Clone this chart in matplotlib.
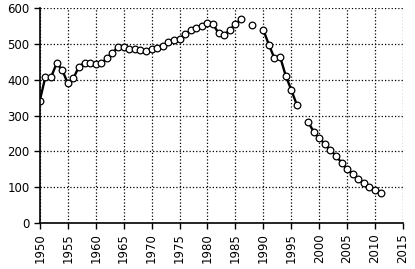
import numpy as np
import matplotlib
matplotlib.use('Agg')
import matplotlib.pyplot as plt

years = list(range(1950, 2012))
values = [342, 409, 407, 446, 428, 390, 404, 437, 448, 446,
          444, 446, 460, 474, 493, 491, 487, 485, 483, 482,
          486, 490, 495, 505, 512, 515, 528, 538, 545, 550,
          560, 556, 530, 525, 540, 555, 570, np.nan, 554, np.nan,
          540, 498, 460, 465, 412, 372, 330, np.nan, 283, 255,
          238, 220, 203, 188, 168, 150, 136, 123, 111, 100,
          92, 84]
x_ticks = list(range(1950, 2016, 5))
y_ticks = list(range(0, 601, 100))

fig = plt.figure(figsize=(4.15, 2.69), dpi=100)
ax = fig.add_axes([0.096, 0.172, 0.875, 0.797])

# open circles joined by a heavy black line, gaps where years are missing
ax.plot(years, values, color='black', lw=1.7, marker='o', markersize=4.8,
        markerfacecolor='white', markeredgecolor='black', markeredgewidth=0.9)

ax.set_xlim(1950, 2015)
ax.set_ylim(0, 600)
ax.set_xticks(x_ticks)
ax.set_yticks(y_ticks)
ax.set_xticklabels([str(t) for t in x_ticks], rotation=90, fontsize=8.5)
ax.tick_params(axis='y', labelsize=8.5)
ax.tick_params(direction='out', length=4, width=1, colors='black')

ax.grid(True, linestyle=':', color='black', lw=0.9)
ax.spines['top'].set_visible(False)
ax.spines['right'].set_visible(False)
ax.spines['left'].set_linewidth(1.2)
ax.spines['bottom'].set_linewidth(1.2)

fig.savefig('out.png', dpi=100)
